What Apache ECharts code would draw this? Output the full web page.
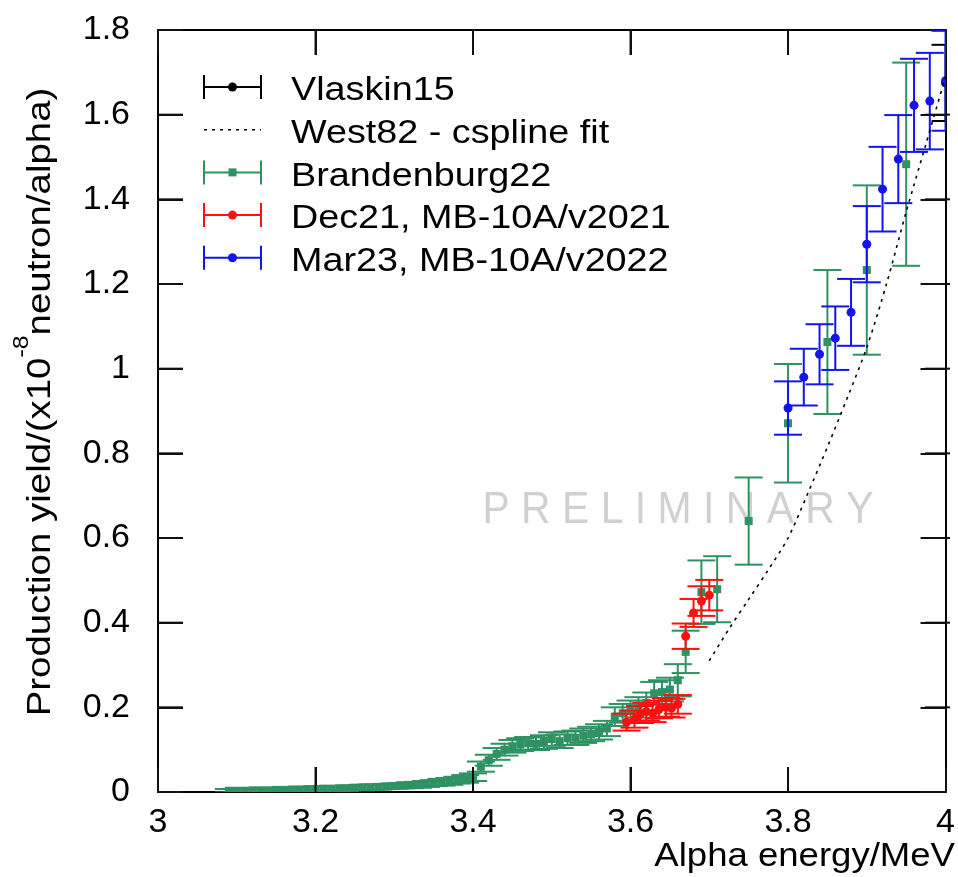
<!DOCTYPE html>
<html>
<head>
<meta charset="utf-8">
<title>Production yield vs alpha energy</title>
<script src="https://cdn.jsdelivr.net/npm/echarts@6/dist/echarts.min.js"></script>
<style>
  html, body { margin: 0; padding: 0; background: #ffffff; }
  #chart { width: 958px; height: 877px; }
</style>
</head>
<body>
<div id="chart"></div>
<script>
// Axis ticks
const xTicks = [3, 3.2, 3.4, 3.6, 3.8, 4];
const yTicks = [0, 0.2, 0.4, 0.6, 0.8, 1, 1.2, 1.4, 1.6, 1.8];

const seriesNames = [
  'Vlaskin15',
  'West82 - cspline fit',
  'Brandenburg22',
  'Dec21, MB-10A/v2021',
  'Mar23, MB-10A/v2022'
];

// Axis titles (y title: text before exponent, exponent, text after)
const xTitle = 'Alpha energy/MeV';
const yTitleParts = ['Production yield/(x10', '-8', 'neutron/alpha)'];

// [energy MeV, yield, yield error]
const vlaskin15 = [
  [4.00, 1.675, 0.090]
];

// [energy MeV, yield]
const west82 = [
  [3.700, 0.310], [3.725, 0.385], [3.750, 0.455], [3.775, 0.525],
  [3.800, 0.600], [3.825, 0.705], [3.850, 0.815], [3.875, 0.930],
  [3.900, 1.050], [3.925, 1.200], [3.950, 1.370], [3.975, 1.530],
  [4.000, 1.690]
];

const brandenburg22 = [
  [3.09, 0.003, 0.004], [3.10, 0.003, 0.004],
  [3.11, 0.003, 0.004], [3.12, 0.004, 0.004], [3.13, 0.004, 0.004],
  [3.14, 0.004, 0.004], [3.15, 0.005, 0.004], [3.16, 0.005, 0.004],
  [3.17, 0.006, 0.004], [3.18, 0.006, 0.005], [3.19, 0.007, 0.005],
  [3.20, 0.007, 0.005], [3.21, 0.008, 0.005], [3.22, 0.008, 0.005],
  [3.23, 0.009, 0.005], [3.24, 0.009, 0.005], [3.25, 0.010, 0.005],
  [3.26, 0.011, 0.006], [3.27, 0.011, 0.006], [3.28, 0.012, 0.006],
  [3.29, 0.013, 0.006], [3.30, 0.014, 0.006], [3.31, 0.015, 0.006],
  [3.32, 0.016, 0.007], [3.33, 0.017, 0.007], [3.34, 0.019, 0.007],
  [3.35, 0.021, 0.007], [3.36, 0.023, 0.008], [3.37, 0.025, 0.008],
  [3.38, 0.028, 0.008], [3.39, 0.031, 0.009], [3.40, 0.035, 0.009],
  [3.41, 0.060, 0.012], [3.42, 0.075, 0.013], [3.43, 0.090, 0.014],
  [3.44, 0.100, 0.014], [3.45, 0.108, 0.015], [3.46, 0.112, 0.015],
  [3.47, 0.115, 0.015], [3.48, 0.114, 0.015], [3.49, 0.118, 0.016],
  [3.50, 0.125, 0.016], [3.51, 0.120, 0.016], [3.52, 0.127, 0.016],
  [3.53, 0.128, 0.017], [3.54, 0.133, 0.017], [3.55, 0.137, 0.017],
  [3.56, 0.142, 0.018], [3.57, 0.150, 0.018], [3.58, 0.178, 0.022],
  [3.59, 0.186, 0.022], [3.60, 0.192, 0.024], [3.61, 0.200, 0.024],
  [3.62, 0.210, 0.025], [3.63, 0.233, 0.027], [3.64, 0.236, 0.028],
  [3.65, 0.242, 0.028], [3.66, 0.264, 0.038], [3.67, 0.331, 0.050],
  [3.69, 0.472, 0.075], [3.71, 0.479, 0.078], [3.75, 0.640, 0.103],
  [3.80, 0.871, 0.140], [3.85, 1.063, 0.170], [3.90, 1.233, 0.200],
  [3.95, 1.483, 0.240]
];

const dec21 = [
  [3.595, 0.165, 0.020], [3.605, 0.172, 0.020], [3.612, 0.183, 0.020],
  [3.620, 0.190, 0.021], [3.628, 0.186, 0.021], [3.636, 0.195, 0.021],
  [3.645, 0.200, 0.022], [3.652, 0.198, 0.022], [3.660, 0.207, 0.022],
  [3.670, 0.368, 0.030], [3.680, 0.423, 0.033], [3.690, 0.451, 0.035],
  [3.700, 0.465, 0.036]
];

const mar23 = [
  [3.80, 0.907, 0.063], [3.82, 0.980, 0.067], [3.84, 1.034, 0.071],
  [3.86, 1.072, 0.075], [3.88, 1.133, 0.079], [3.90, 1.294, 0.090],
  [3.92, 1.424, 0.100], [3.94, 1.495, 0.104], [3.96, 1.622, 0.110],
  [3.98, 1.632, 0.114], [4.00, 1.680, 0.118]
];

const FONT = '"Liberation Sans", Arial, Helvetica, sans-serif';
const BLACK = '#000000';
const GREEN = '#2e9262';
const RED = '#ff1010';
const BLUE = '#1414ee';

const CAP_HALF = 14;
const TICK_LEN = 25;
const GRID = { left: 158, right: 8, top: 30, bottom: 85 };

function step(ticks) {
  return Math.round((ticks[1] - ticks[0]) * 1e6) / 1e6;
}
function tickText(v) {
  return String(Math.round(v * 1e6) / 1e6);
}

const measureCtx = document.createElement('canvas').getContext('2d');
function textWidth(text, size) {
  measureCtx.font = size + 'px ' + FONT;
  return measureCtx.measureText(text).width;
}

function markerShape(kind, cx, cy, color) {
  if (kind === 'square') {
    return { type: 'rect', shape: { x: cx - 4, y: cy - 4, width: 8, height: 8 }, style: { fill: color } };
  }
  return { type: 'circle', shape: { cx: cx, cy: cy, r: 4.5 }, style: { fill: color } };
}

// y error bars with horizontal caps, gnuplot style
function errorBarRenderer(color, kind) {
  return function (params, api) {
    const x = api.value(0), y = api.value(1), e = api.value(2);
    const c = api.coord([x, y]);
    const hi = api.coord([x, y + e]);
    const lo = api.coord([x, y - e]);
    const st = { stroke: color, lineWidth: 2 };
    return {
      type: 'group',
      children: [
        { type: 'line', shape: { x1: c[0], y1: hi[1], x2: c[0], y2: lo[1] }, style: st },
        { type: 'line', shape: { x1: c[0] - CAP_HALF, y1: hi[1], x2: c[0] + CAP_HALF, y2: hi[1] }, style: st },
        { type: 'line', shape: { x1: c[0] - CAP_HALF, y1: lo[1], x2: c[0] + CAP_HALF, y2: lo[1] }, style: st },
        markerShape(kind, c[0], c[1], color)
      ]
    };
  };
}

function errorSeries(name, data, color, kind) {
  return {
    name: name,
    type: 'custom',
    clip: true,
    data: data,
    encode: { x: 0, y: 1 },
    renderItem: errorBarRenderer(color, kind)
  };
}

// Key in the upper left corner
const legendRows = [
  { name: seriesNames[0], color: BLACK, kind: 'circle' },
  { name: seriesNames[1], color: BLACK, kind: 'dash' },
  { name: seriesNames[2], color: GREEN, kind: 'square' },
  { name: seriesNames[3], color: RED, kind: 'circle' },
  { name: seriesNames[4], color: BLUE, kind: 'circle' }
];

const keyGraphics = [];
legendRows.forEach(function (row, i) {
  const y = 87 + i * 42.7;
  const x1 = 204, x2 = 261, xm = (x1 + x2) / 2;
  if (row.kind === 'dash') {
    keyGraphics.push({ type: 'line', shape: { x1: x1, y1: y, x2: x2, y2: y },
      style: { stroke: row.color, lineWidth: 1.6, lineDash: [3, 5] } });
  } else {
    const st = { stroke: row.color, lineWidth: 2 };
    keyGraphics.push({ type: 'line', shape: { x1: x1, y1: y, x2: x2, y2: y }, style: st });
    keyGraphics.push({ type: 'line', shape: { x1: x1, y1: y - 12, x2: x1, y2: y + 12 }, style: st });
    keyGraphics.push({ type: 'line', shape: { x1: x2, y1: y - 12, x2: x2, y2: y + 12 }, style: st });
    keyGraphics.push(markerShape(row.kind, xm, y, row.color));
  }
  keyGraphics.push({ type: 'text', x: 291, y: y + 4, scaleX: 1.11,
    style: { text: row.name, fontFamily: FONT, fontSize: 34, fill: '#000', align: 'left', verticalAlign: 'middle' } });
});

// Rotated y title with a raised exponent
const Y_MAIN = 34, Y_SUP = 22;
const w1 = textWidth(yTitleParts[0], Y_MAIN);
const ws = textWidth(yTitleParts[1], Y_SUP);
const w2 = textWidth(yTitleParts[2], Y_MAIN);
const x0 = -(w1 + ws + w2) / 2;
const yTitleGroup = {
  type: 'group', x: 41, y: 402, rotation: Math.PI / 2, scaleX: 1.13,
  children: [
    { type: 'text', x: x0, y: 0,
      style: { text: yTitleParts[0], fontFamily: FONT, fontSize: Y_MAIN, fill: '#000', align: 'left', verticalAlign: 'middle' } },
    { type: 'text', x: x0 + w1, y: -19,
      style: { text: yTitleParts[1], fontFamily: FONT, fontSize: Y_SUP, fill: '#000', align: 'left', verticalAlign: 'middle' } },
    { type: 'text', x: x0 + w1 + ws, y: 0,
      style: { text: yTitleParts[2], fontFamily: FONT, fontSize: Y_MAIN, fill: '#000', align: 'left', verticalAlign: 'middle' } }
  ]
};

const tickLineStyle = { color: '#111', width: 2 };
const axisCommon = {
  type: 'value',
  axisLine: { show: true, onZero: false, lineStyle: { color: '#000', width: 2 } },
  axisTick: { show: true, inside: true, length: TICK_LEN, lineStyle: tickLineStyle },
  splitLine: { show: false }
};

const baseGraphics = [
  { type: 'text', z: 0, x: 678, y: 511, scaleX: 0.93,
    style: { text: 'P R E L I M I N A R Y', fontFamily: FONT, fontSize: 44, fill: '#d0d0d0',
             align: 'center', verticalAlign: 'middle' } },
  { type: 'text', x: 955, y: 857, scaleX: 1.075,
    style: { text: xTitle, fontFamily: FONT, fontSize: 34, fill: '#000',
             align: 'right', verticalAlign: 'middle' } },
  yTitleGroup
].concat(keyGraphics);

const chart = echarts.init(document.getElementById('chart'), null, { renderer: 'canvas' });

chart.setOption({
  animation: false,
  backgroundColor: '#ffffff',
  grid: { left: GRID.left, right: GRID.right, top: GRID.top, bottom: GRID.bottom, containLabel: false },
  xAxis: [
    Object.assign({}, axisCommon, {
      position: 'bottom',
      min: xTicks[0], max: xTicks[xTicks.length - 1], interval: step(xTicks),
      axisLabel: { fontFamily: FONT, fontSize: 34, color: '#000', margin: 14, formatter: tickText }
    }),
    Object.assign({}, axisCommon, {
      position: 'top',
      min: xTicks[0], max: xTicks[xTicks.length - 1], interval: step(xTicks),
      axisLabel: { show: false }
    })
  ],
  yAxis: [
    Object.assign({}, axisCommon, {
      position: 'left',
      min: yTicks[0], max: yTicks[yTicks.length - 1], interval: step(yTicks),
      axisLabel: { fontFamily: FONT, fontSize: 34, color: '#000', margin: 28, formatter: tickText }
    }),
    Object.assign({}, axisCommon, {
      position: 'right',
      min: yTicks[0], max: yTicks[yTicks.length - 1], interval: step(yTicks),
      axisLabel: { show: false }
    })
  ],
  graphic: baseGraphics,
  series: [
    errorSeries(seriesNames[0], vlaskin15, BLACK, 'circle'),
    {
      name: seriesNames[1],
      type: 'line',
      data: west82,
      smooth: 0.3,
      showSymbol: false,
      symbol: 'none',
      clip: true,
      lineStyle: { color: '#000', width: 1.6, type: [3, 5] }
    },
    errorSeries(seriesNames[2], brandenburg22, GREEN, 'square'),
    errorSeries(seriesNames[3], dec21, RED, 'circle'),
    errorSeries(seriesNames[4], mar23, BLUE, 'circle')
  ]
});

// Mirrored inward tick marks placed through the axis scales
const tickGraphics = [];
const tStyle = { stroke: '#111', lineWidth: 2 };
const frameTop = GRID.top, frameBottom = 877 - GRID.bottom;
const frameLeft = GRID.left, frameRight = 958 - GRID.right;
xTicks.slice(1, -1).forEach(function (v) {
  const px = chart.convertToPixel({ xAxisIndex: 0 }, v);
  tickGraphics.push({ type: 'line', z: 10, shape: { x1: px, y1: frameBottom, x2: px, y2: frameBottom - TICK_LEN }, style: tStyle });
  tickGraphics.push({ type: 'line', z: 10, shape: { x1: px, y1: frameTop, x2: px, y2: frameTop + TICK_LEN }, style: tStyle });
});
yTicks.slice(1, -1).forEach(function (v) {
  const py = chart.convertToPixel({ yAxisIndex: 0 }, v);
  tickGraphics.push({ type: 'line', z: 10, shape: { x1: frameLeft, y1: py, x2: frameLeft + TICK_LEN, y2: py }, style: tStyle });
  tickGraphics.push({ type: 'line', z: 10, shape: { x1: frameRight, y1: py, x2: frameRight - TICK_LEN, y2: py }, style: tStyle });
});
chart.setOption({ graphic: baseGraphics.concat(tickGraphics) });
</script>
</body>
</html>
